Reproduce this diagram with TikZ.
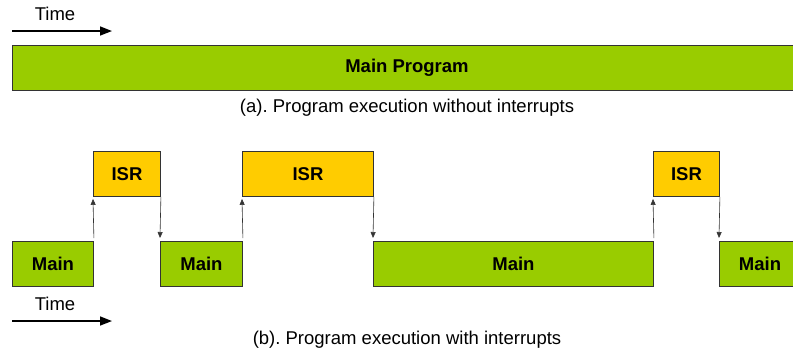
\documentclass[tikz,border=0pt]{standalone}
\usepackage{fontspec}
\setmainfont{Liberation Sans}
\usepackage{xcolor}
\usepackage{tikz}
\usetikzlibrary{arrows.meta}

\definecolor{maingreen}{HTML}{99CC00}
\definecolor{isryellow}{HTML}{FFCC00}
\definecolor{boxline}{HTML}{333333}

\tikzset{
    task/.style={draw=boxline, line width=0.9pt, anchor=north west,
        minimum height=45pt, inner sep=0pt, font=\fontsize{18.5}{22}\selectfont\bfseries},
    mainbox/.style={task, fill=maingreen},
    isrbox/.style={task, fill=isryellow},
    jump/.style={-{Triangle[length=6pt,width=5pt]}, line width=0.6pt, draw=black!80},
    timearrow/.style={-{Triangle[length=12pt,width=9pt]}, line width=1.6pt},
    lbl/.style={font=\fontsize{18.5}{22}\selectfont}
}

\begin{document}
\frenchspacing
\begin{tikzpicture}[x=1pt,y=-1pt]
                \useasboundingbox (0,0) rectangle (793,349);
                % (a) without interrupts
                \node[lbl] (ta) at (55,14) {Time};
                \coordinate (ta0) at (12,31);
                \coordinate (ta1) at (112,31);
                \draw[timearrow] (ta0) -- (ta1);
                \node[mainbox, minimum width=790pt] (mp) at (12,45) {};
                \node[font=\fontsize{18.5}{22}\selectfont\bfseries] (mpl) at (407,67.5) {Main Program};
                \node[lbl] (capa) at (407,108) {(a). Program execution without interrupts};

                % (b) with interrupts
                \node[mainbox, minimum width=81pt] (m1) at (12,241) {Main};
                \node[isrbox, minimum width=67pt] (i1) at (93,151) {ISR};
                \node[mainbox, minimum width=82pt] (m2) at (160,241) {Main};
                \node[isrbox, minimum width=131pt] (i2) at (242,151) {ISR};
                \node[mainbox, minimum width=280pt] (m3) at (373,241) {Main};
                \node[isrbox, minimum width=66pt] (i3) at (653,151) {ISR};
                \node[mainbox, minimum width=90pt] (m4) at (719,241) {};
                \node[font=\fontsize{18.5}{22}\selectfont\bfseries] (m4l) at (760,263.5) {Main};

                \draw[jump] ([yshift=3pt]m1.north east) -- ([yshift=-2pt]i1.south west);
                \draw[jump] (i1.south east) -- ([yshift=3pt]m2.north west);
                \draw[jump] ([yshift=3pt]m2.north east) -- ([yshift=-2pt]i2.south west);
                \draw[jump] (i2.south east) -- ([yshift=3pt]m3.north west);
                \draw[jump] ([yshift=3pt]m3.north east) -- ([yshift=-2pt]i3.south west);
                \draw[jump] (i3.south east) -- ([yshift=3pt]m4.north west);

                \node[lbl] (tb) at (55,304) {Time};
                \coordinate (tb0) at (12,321);
                \coordinate (tb1) at (112,321);
                \draw[timearrow] (tb0) -- (tb1);
                \node[lbl] (capb) at (407,339.5) {(b). Program execution with interrupts};
            \end{tikzpicture}
\end{document}
